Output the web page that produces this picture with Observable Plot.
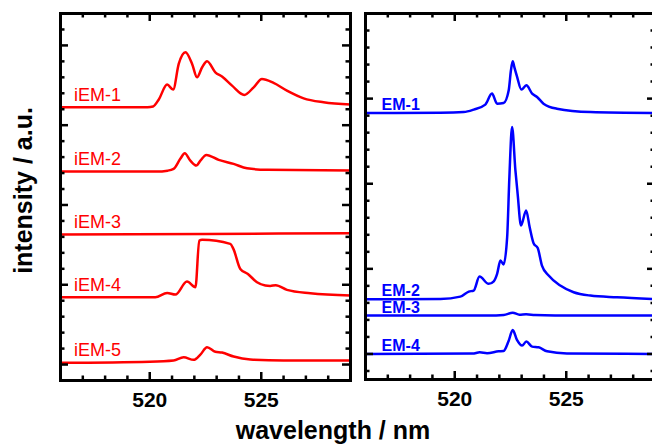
<!DOCTYPE html>
<html><head><meta charset="utf-8">
<script src="https://cdn.jsdelivr.net/npm/d3@7"></script>
<script src="https://cdn.jsdelivr.net/npm/@observablehq/plot@0.6"></script>
<style>
body{margin:0;background:#fff;}
#wrap{position:relative;width:652px;height:444px;overflow:hidden;background:#fff;}
#wrap svg{position:absolute;top:0;}
</style></head><body><div id="wrap"></div>
<script>
// ---------- data (wavelength in nm, intensity in a.u. incl. vertical offset) ----------
const iem1W = [516, 518, 519.9, 520.15, 520.4, 520.78, 521.05, 521.3, 521.6, 521.9, 522.12, 522.35, 522.57, 522.94, 523.24, 523.69, 524.24, 524.66, 525.03, 525.55, 526.15, 526.9, 527.79, 529];
const iem1I = [3.224, 3.224, 3.226, 3.235, 3.32, 3.509, 3.446, 3.768, 3.914, 3.768, 3.600, 3.726, 3.801, 3.663, 3.609, 3.496, 3.380, 3.475, 3.580, 3.530, 3.434, 3.337, 3.287, 3.258];

const iem2W = [516, 520.3, 520.8, 521.07, 521.37, 521.57, 521.82, 522.09, 522.27, 522.54, 523.09, 523.76, 524.36, 525.26, 529];
const iem2I = [2.419, 2.419, 2.43, 2.452, 2.578, 2.648, 2.556, 2.494, 2.556, 2.628, 2.565, 2.515, 2.460, 2.440, 2.431];

const iem3W = [516, 522.5, 529];
const iem3I = [1.629, 1.637, 1.645];

const iem4W = [516, 520.25, 520.78, 521.15, 521.67, 522.05, 522.22, 522.35, 523.61, 523.75, 524.06, 524.4, 524.81, 525.18, 525.4, 525.65, 526.15, 527.2, 529];
const iem4I = [0.843, 0.843, 0.898, 0.877, 1.040, 0.969, 1.554, 1.563, 1.513, 1.45, 1.199, 1.135, 1.031, 0.990, 0.985, 0.995, 0.936, 0.893, 0.865];

const iem5W = [516, 520, 521.07, 521.52, 521.97, 522.27, 522.57, 522.94, 523.24, 523.76, 524.51, 526.0, 529];
const iem5I = [0.021, 0.035, 0.050, 0.091, 0.059, 0.125, 0.217, 0.16, 0.15, 0.100, 0.063, 0.05, 0.05];

const em1W = [516, 519.36, 520.4, 520.85, 521.37, 521.67, 521.9, 522.19, 522.42, 522.52, 522.6, 522.67, 522.79, 522.99, 523.21, 523.47, 523.69, 523.98, 524.58, 526.08, 529];
const em1I = [2.831, 2.835, 2.842, 2.871, 2.929, 3.059, 2.941, 2.948, 3.098, 3.333, 3.439, 3.372, 3.262, 3.106, 3.156, 3.059, 3.019, 2.941, 2.882, 2.842, 2.831];

const em2W = [516, 519.36, 520.25, 520.63, 520.85, 521.11, 521.52, 521.75, 521.9, 522.05, 522.19, 522.35, 522.45, 522.57, 522.72, 522.82, 522.97, 523.2, 523.36, 523.54, 523.72, 523.91, 524.21, 524.73, 525.33, 526.08, 527.27, 529];
const em2I = [0.642, 0.647, 0.674, 0.733, 0.745, 0.909, 0.824, 0.854, 0.941, 1.098, 1.051, 1.372, 2.078, 2.666, 2.156, 1.882, 1.509, 1.686, 1.489, 1.298, 1.245, 1.039, 0.921, 0.804, 0.725, 0.686, 0.666, 0.645];

const em3W = [516, 521.5, 522.2, 522.6, 522.9, 523.2, 523.6, 524.5, 529];
const em3I = [0.451, 0.452, 0.458, 0.485, 0.462, 0.466, 0.458, 0.453, 0.451];

const em4W = [516, 520.8, 521.12, 521.45, 521.97, 522.19, 522.42, 522.6, 522.79, 523.02, 523.21, 523.47, 523.76, 524.14, 525.03, 529];
const em4I = [0, 0.005, 0.019, 0.008, 0.031, 0.035, 0.156, 0.282, 0.165, 0.098, 0.145, 0.086, 0.078, 0.031, 0.006, 0];

const leftNames = ["iEM-1", "iEM-2", "iEM-3", "iEM-4", "iEM-5"];
const rightNames = ["EM-1", "EM-2", "EM-3", "EM-4"];

const xTickLabels = [520, 525];
const xMinorTicks = [517, 518, 519, 521, 522, 523, 524, 526, 527, 528];
const leftYMajor = [0, 1, 2, 3, 4];
const leftYMinor = [0.2, 0.4, 0.6, 0.8, 1.2, 1.4, 1.6, 1.8, 2.2, 2.4, 2.6, 2.8, 3.2, 3.4, 3.6, 3.8, 4.2];
const rightYMajor = [0, 1, 2, 3];
const rightYMinor = [-0.2, 0.2, 0.4, 0.6, 0.8, 1.2, 1.4, 1.6, 1.8, 2.2, 2.4, 2.6, 2.8, 3.2, 3.4, 3.6, 3.8];

const xLabel = "wavelength / nm";
const yLabel = "intensity / a.u.";

// ---------- build ----------
const FONT = "'Liberation Sans', Arial, Helvetica, sans-serif";
const leftSeries = [[iem1W, iem1I], [iem2W, iem2I], [iem3W, iem3I], [iem4W, iem4I], [iem5W, iem5I]]
  .map(([W, I], k) => ({name: leftNames[k], W, I}));
const rightSeries = [[em1W, em1I], [em2W, em2I], [em3W, em3I], [em4W, em4I]]
  .map(([W, I], k) => ({name: rightNames[k], W, I}));
const rows = (S) => S.flatMap(s => s.W.map((w, i) => ({name: s.name, w, v: s.I[i]})));

function frameMarks(yMaj, yMin, W, H) {
  const tk = {stroke: "black", strokeWidth: 2.5};
  const M = 8, m = 4.5;
  return [
    Plot.tickX(xTickLabels, {x: d => d, insetTop: H - M, ...tk}),
    Plot.tickX(xTickLabels, {x: d => d, insetBottom: H - M, ...tk}),
    Plot.tickX(xMinorTicks, {x: d => d, insetTop: H - m, ...tk}),
    Plot.tickX(xMinorTicks, {x: d => d, insetBottom: H - m, ...tk}),
    Plot.tickY(yMaj, {y: d => d, insetRight: W - M, ...tk}),
    Plot.tickY(yMaj, {y: d => d, insetLeft: W - M, ...tk}),
    Plot.tickY(yMin, {y: d => d, insetRight: W - m, ...tk}),
    Plot.tickY(yMin, {y: d => d, insetLeft: W - m, ...tk}),
    Plot.frame({stroke: "black", strokeWidth: 3}),
    Plot.text(xTickLabels, {x: d => d, frameAnchor: "bottom", lineAnchor: "top", dy: 12,
      text: d => String(d), fontSize: 21, fontWeight: "bold", fill: "black"})
  ];
}

const left = Plot.plot({
  width: 652, height: 444,
  marginLeft: 60, marginRight: 302, marginTop: 13, marginBottom: 64,
  style: {fontFamily: FONT, background: "white", overflow: "visible"},
  x: {domain: [516, 529], axis: null},
  y: {domain: [-0.2, 4.4], axis: null},
  marks: [
    Plot.line(rows(leftSeries), {x: "w", y: "v", z: "name", stroke: "#ff0000", strokeWidth: 2.5, curve: "monotone-x"}),
    Plot.text(leftSeries, {x: () => 516.6, y: d => d.I[0], text: d => d.name, textAnchor: "start",
      lineAnchor: "bottom", dy: -6.5, fill: "#ff0000", fontSize: 18}),
    ...frameMarks(leftYMajor, leftYMinor, 290, 367),
    Plot.text([xLabel], {frameAnchor: "bottom", text: d => d, textAnchor: "middle", lineAnchor: "bottom", dx: 127.5, dy: 58,
      fontSize: 25, fontWeight: "bold", fill: "black"}),
    Plot.text([yLabel], {frameAnchor: "left", text: d => d, rotate: -90, textAnchor: "middle", lineAnchor: "bottom", dx: -29, dy: -6.5,
      fontSize: 25, fontWeight: "bold", fill: "black"})
  ]
});
left.style.left = "0px";

const right = Plot.plot({
  width: 305, height: 444,
  marginLeft: 10, marginRight: 5, marginTop: 13, marginBottom: 65,
  style: {fontFamily: FONT, background: "transparent"},
  x: {domain: [516, 529], axis: null},
  y: {domain: [-0.3, 4.0], axis: null},
  marks: [
    Plot.line(rows(rightSeries), {x: "w", y: "v", z: "name", stroke: "#0000ff", strokeWidth: 2.5, curve: "monotone-x"}),
    Plot.text(rightSeries, {x: () => 516.72, y: d => d.I[0], text: d => d.name, textAnchor: "start",
      lineAnchor: "bottom", dy: -3, fill: "#0000ff", fontSize: 16, fontWeight: "bold"}),
    ...frameMarks(rightYMajor, rightYMinor, 290, 366)
  ]
});
right.style.left = "355px";

const wrap = document.getElementById("wrap");
wrap.appendChild(left);
wrap.appendChild(right);
</script></body></html>
